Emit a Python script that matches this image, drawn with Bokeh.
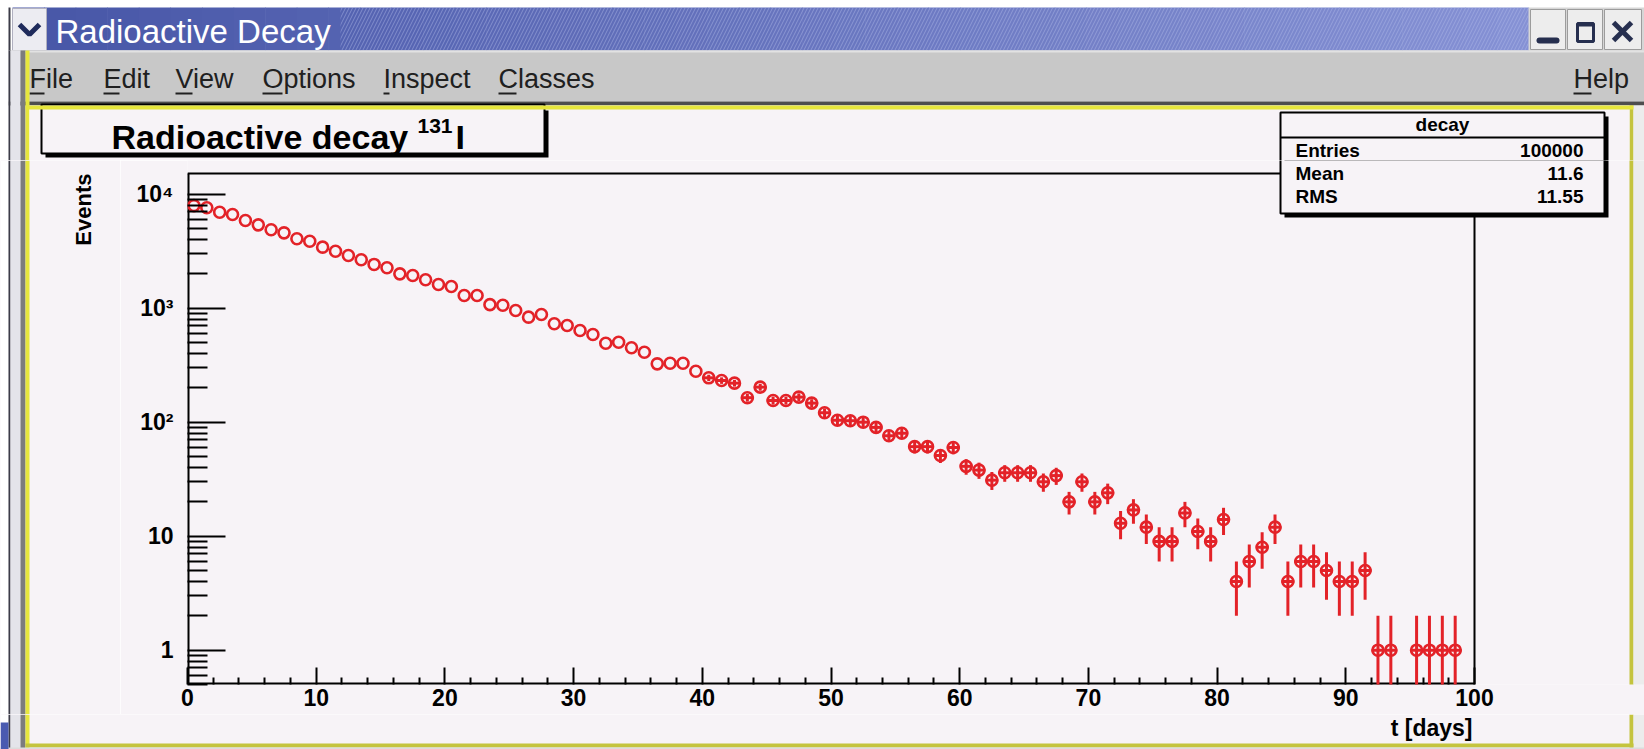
import numpy as np
from bokeh.plotting import figure
from bokeh.layouts import column, row
from bokeh.models import Range1d, BoxAnnotation, Label, FixedTicker, ColumnDataSource
from bokeh.embed import file_html
from bokeh.resources import INLINE
from bokeh.core.properties import value

# ---------------- data ----------------
bin_low_edges = list(range(100))          # 1-day bins from 0 to 100 days
counts = [7943, 7600, 6950, 6640, 5880, 5380, 4870, 4580, 4060, 3870,
          3430, 3160, 2900, 2660, 2420, 2260, 2000, 1935, 1775, 1615,
          1550, 1292, 1292, 1074, 1060, 955, 834, 881, 730, 705,
          637, 588, 493, 503, 450, 411, 325, 329, 329, 280,
          245, 232, 220, 164, 203, 155, 155, 166, 147, 121,
          104, 103, 100, 90, 76, 80, 61, 61, 51, 60,
          41, 38, 31, 36, 36, 36, 30, 34, 20, 30,
          20, 24, 13, 17, 12, 9, 9, 16, 11, 9,
          14, 4, 6, 8, 12, 4, 6, 6, 5, 4,
          4, 5, 1, 1, 0, 1, 1, 1, 1, 0]

x_major_ticks = [0, 10, 20, 30, 40, 50, 60, 70, 80, 90, 100]
x_minor_ticks = [v for v in range(0, 101, 2) if v % 10 != 0]
y_major_ticks = [1, 10, 100, 1000, 10000]
y_tick_labels = ["1", "10", "10²", "10³", "10⁴"]
y_minor_ticks = [0.5, 0.6, 0.7, 0.8, 0.9] + [k * 10 ** d for d in range(4) for k in range(2, 10)]
x_limits = (0, 100)
y_low = 0.5

title_text = "Radioactive decay"
title_sup = "131"
title_elem = "I"
stats_title = "decay"
stats_names = ["Entries", "Mean", "RMS"]
stats_values = ["100000", "11.6", "11.55"]
menu_items = ["File", "Edit", "View", "Options", "Inspect", "Classes"]
window_title = "Radioactive Decay"

# ---------------- geometry / style (page pixels) ----------------
PAGE_W, PAGE_H = 1644, 749
SPLIT_TOP = 160
SPLIT_BOT = 714
SPLIT_LEFT = 120
FRAME_L, FRAME_B = 187, 684
ROOT_R, ROOT_T = 1474, 173
RED = "#e32228"
BG = "#f7f3f7"
YEL = "#e6e63c"
OLIVE = "#c4c43e"
FONT = "Liberation Sans"
MID = 0.347          # alphabetic baseline -> "middle" offset, in em
MARKER_PX = 13.6

px_per_day = (ROOT_R - FRAME_L) / (x_limits[1] - x_limits[0])
px_per_decade = 114.0
y_root_top = y_low * 10 ** ((FRAME_B - ROOT_T) / px_per_decade)
x_frame_end = x_limits[0] + (PAGE_W - FRAME_L) / px_per_day
y_frame_top = y_low * 10 ** ((FRAME_B - SPLIT_TOP) / px_per_decade)


def chrome_fig(x0, x1, y0, y1, bg="white"):
    f = figure(width=x1 - x0, height=y1 - y0, x_range=Range1d(x0, x1), y_range=Range1d(-y1, -y0),
               output_backend="svg", toolbar_location=None, title=None,
               x_axis_location=None, y_axis_location=None, min_border=0)
    f.grid.visible = False
    f.outline_line_color = None
    f.background_fill_color = bg
    f.border_fill_color = bg
    return f


def rect(f, x0, y0, x1, y1, color, line_color=None, lw=1, **kw):
    f.quad(left=[x0], right=[x1], top=[-y0], bottom=[-y1], fill_color=color,
           line_color=line_color, line_width=lw, **kw)


def txt(f, x, y, s, size, bold=False, align="left", color="black", angle=0.0, baseline="alphabetic"):
    yy = y - MID * size if baseline == "alphabetic" else y
    f.text(x=[x], y=[-yy], text=[s], text_font=value(FONT), text_font_size=f"{size}px",
           text_font_style="bold" if bold else "normal", text_align=align,
           text_baseline="middle", text_color=color, angle=angle)


def left_strips(f, y0, y1):
    rect(f, 0, y0, 8, y1, "#ffffff")
    rect(f, 8, y0, 10, y1, "#3c3c48")
    rect(f, 10, y0, 20, y1, "#e4e4ea")
    rect(f, 20, y0, 25, y1, "#7c7c7c")
    rect(f, 25, y0, 29, y1, YEL)


def right_strips(f, y0, y1):
    rect(f, 1629, y0, 1633, y1, OLIVE)
    rect(f, 1633, y0, 1644, y1, "#ececec")


# ================= top: window chrome, title pave, top of stats pave =================
top = chrome_fig(0, PAGE_W, 0, SPLIT_TOP)

n_strips = 48
edges = np.linspace(12, 1528, n_strips + 1)
c0 = np.array([0x48, 0x57, 0xa8]); c1 = np.array([0x85, 0x91, 0xd4])
cols = ["#%02x%02x%02x" % tuple((c0 * (1 - i / (n_strips - 1)) + c1 * i / (n_strips - 1)).astype(int))
        for i in range(n_strips)]
top.quad(left=edges[:-1], right=edges[1:] + 0.6, top=-7, bottom=-50, fill_color=cols, line_color=None)
top.quad(left=[340], right=[1528], top=[-7], bottom=[-50], fill_alpha=0, line_color=None,
         hatch_pattern="/", hatch_color="#b4bcec", hatch_alpha=0.45, hatch_scale=7, hatch_weight=1)
txt(top, 55, 42, window_title, 33, color="white")

rect(top, 12, 8, 46, 50, "#ececf2", line_color="#b0b0c0")
top.line(x=[19, 29, 39], y=[-24, -34, -24], line_color="#1f2b5c", line_width=5)

rect(top, 1528, 7, 1644, 50, "#d6d6d6")
top.quad(left=[1530, 1567, 1604], right=[1565, 1602, 1641], top=[-9] * 3, bottom=[-49] * 3,
         fill_color="#ededed", line_color="#9c9c9c", line_width=1)
top.line(x=[1539, 1556], y=[-40, -40], line_color="#262f4f", line_width=6, line_cap="round")
top.quad(left=[1577], right=[1593], top=[-23], bottom=[-41], fill_alpha=0, line_color="#262f4f", line_width=3)
top.line(x=[1577, 1593], y=[-24, -24], line_color="#262f4f", line_width=4)
top.line(x=[1613, 1631], y=[-22, -40], line_color="#262f4f", line_width=5)
top.line(x=[1631, 1613], y=[-22, -40], line_color="#262f4f", line_width=5)

rect(top, 8, 50, 1644, 101, "#c8c8c8")
rect(top, 8, 50, 1644, 52, "#e2e2e2")
rect(top, 8, 101, 1644, 105, "#4e4e4e")
menu_x = [29, 103, 175, 262, 383, 498]
first_w = [15, 16, 17, 20, 6, 18]
for mx, item in zip(menu_x, menu_items):
    txt(top, mx, 88, item, 27, color="#202020")
top.segment(x0=menu_x, y0=[-93] * 6, x1=[a + b for a, b in zip(menu_x, first_w)], y1=[-93] * 6,
            line_color="#202020", line_width=2)
txt(top, 1573, 88, "Help", 27, color="#202020")
top.segment(x0=[1573], y0=[-93], x1=[1591], y1=[-93], line_color="#202020", line_width=2)

left_strips(top, 50, SPLIT_TOP)
rect(top, 8, 7, 10, 50, "#3c3c48")
right_strips(top, 105, SPLIT_TOP)
rect(top, 29, 105, 1629, SPLIT_TOP, BG)

# title pave
rect(top, 45, 110, 548, 157, "black")
rect(top, 41, 104, 544, 153, BG, line_color="black", lw=2)
txt(top, 111, 148, title_text, 34, bold=True)
txt(top, 417, 133, title_sup, 21, bold=True)
txt(top, 455, 148, title_elem, 34, bold=True)

# stats pave (upper part)
rect(top, 1284, 116, 1608, 217, "black")
rect(top, 1280, 112, 1604, 213, BG, line_color="black", lw=2)
rect(top, 1280, 136, 1604, 138, "black")
txt(top, 1442, 131, stats_title, 19, bold=True, align="center")
txt(top, 1295, 157, stats_names[0], 19, bold=True)
txt(top, 1583, 157, stats_values[0], 19, bold=True, align="right")

# yellow canvas border (top)
rect(top, 25, 105, 1633, 109, YEL)

# ================= left strip with the y title =================
left = chrome_fig(0, SPLIT_LEFT, SPLIT_TOP, SPLIT_BOT, bg=BG)
left_strips(left, SPLIT_TOP, SPLIT_BOT)
txt(left, 83, ROOT_T, "Events", 22, bold=True, align="right", baseline="middle", angle=np.pi / 2)

# ================= main: the histogram =================
main = figure(width=PAGE_W - SPLIT_LEFT, height=SPLIT_BOT - SPLIT_TOP,
              x_range=Range1d(x_limits[0], x_frame_end), y_range=Range1d(y_low, y_frame_top),
              y_axis_type="log", output_backend="svg", toolbar_location=None, title=None,
              min_border_left=FRAME_L - SPLIT_LEFT, min_border_right=0,
              min_border_top=0, min_border_bottom=SPLIT_BOT - FRAME_B)
main.background_fill_color = BG
main.border_fill_color = BG
main.grid.visible = False
main.outline_line_color = None

xa = main.xaxis[0]
ya = main.yaxis[0]
xa.ticker = FixedTicker(ticks=x_major_ticks, minor_ticks=x_minor_ticks)
ya.ticker = FixedTicker(ticks=y_major_ticks, minor_ticks=y_minor_ticks)
ya.major_label_overrides = dict(zip(y_major_ticks, y_tick_labels))
for ax in (xa, ya):
    ax.axis_line_color = None
    ax.major_tick_line_width = 2
    ax.minor_tick_line_width = 2
    ax.major_tick_line_color = "black"
    ax.minor_tick_line_color = "black"
    ax.major_tick_out = 0
    ax.minor_tick_out = 0
    ax.major_label_text_font = FONT
    ax.major_label_text_font_style = "bold"
    ax.major_label_text_font_size = "23px"
    ax.major_label_text_color = "black"
xa.major_tick_in = 17
xa.minor_tick_in = 7
xa.major_label_standoff = 4
ya.major_tick_in = 38
ya.minor_tick_in = 20
ya.major_label_standoff = 14

# ROOT frame drawn through the plot scales
main.segment(x0=[x_limits[0], x_limits[0]], y0=[y_low, y_low], x1=[x_limits[0], x_limits[1]],
             y1=[y_root_top, y_low], line_color="black", line_width=4)
main.segment(x0=[x_limits[0], x_limits[1]], y0=[y_root_top, y_low], x1=[x_limits[1], x_limits[1]],
             y1=[y_root_top, y_root_top], line_color="black", line_width=2)

# histogram points; error bars (ROOT hides those that stay inside the marker)
t = [e + 0.5 for e, c in zip(bin_low_edges, counts) if c > 0]
n = [c for c in counts if c > 0]
err = [np.sqrt(c) for c in n]
lo = [max(c - e, y_low * 0.4) for c, e in zip(n, err)]
hi = [c + e for c, e in zip(n, err)]
show = [np.log10(h / c) * px_per_decade > 3.0 for h, c in zip(hi, n)]
eb = ColumnDataSource(dict(t=[a for a, s in zip(t, show) if s],
                           n=[a for a, s in zip(n, show) if s],
                           lo=[a for a, s in zip(lo, show) if s],
                           hi=[a for a, s in zip(hi, show) if s]))
eb.data["tl"] = [v - 0.5 for v in eb.data["t"]]
eb.data["tr"] = [v + 0.5 for v in eb.data["t"]]
main.segment(x0="t", y0="lo", x1="t", y1="hi", source=eb, line_color=RED, line_width=3)
main.segment(x0="tl", y0="n", x1="tr", y1="n", source=eb, line_color=RED, line_width=3)
src = ColumnDataSource(dict(t=t, n=n))
main.scatter(x="t", y="n", source=src, marker="circle", size=MARKER_PX - 2.6, fill_color=None,
             line_color=RED, line_width=2.6)


def sbox(x0, y0, x1, y1, color, line_color=None, line_width=1):
    main.add_layout(BoxAnnotation(left=x0 - FRAME_L, right=x1 - FRAME_L, top=FRAME_B - y0,
                                  bottom=FRAME_B - y1, left_units="screen", right_units="screen",
                                  top_units="screen", bottom_units="screen",
                                  fill_color=color, fill_alpha=1,
                                  line_color=line_color, line_width=line_width, line_alpha=1))


def slabel(x, y, text, size, bold=True, align="left"):
    main.add_layout(Label(x=x - FRAME_L, y=FRAME_B - (y - MID * size), x_units="screen", y_units="screen",
                          text=text, text_font=FONT, text_font_size=f"{size}px",
                          text_font_style="bold" if bold else "normal",
                          text_align=align, text_baseline="middle", text_color="black"))


# right window strips and lower part of the stats pave
sbox(1629, 150, 1633, 720, OLIVE)
sbox(1633, 150, 1644, 720, "#ececec")
sbox(1284, 116, 1608, 217, "black")
sbox(1280, 112, 1604, 213, BG, line_color="black", line_width=2)
for i in (1, 2):
    yb = 157 + i * 23
    slabel(1295, yb, stats_names[i], 19)
    slabel(1583, yb, stats_values[i], 19, align="right")

# ================= bottom strip with the x title =================
bottom = chrome_fig(0, PAGE_W, SPLIT_BOT, PAGE_H, bg=BG)
left_strips(bottom, SPLIT_BOT, PAGE_H)
right_strips(bottom, SPLIT_BOT, PAGE_H)
rect(bottom, 25, 743, 1633, 747, OLIVE)
rect(bottom, 0, 747, 1644, 749, "#dcdcdc")
rect(bottom, 0, 722, 8, 749, "#4a5ab0")
txt(bottom, 1472, 735, "t [days]", 23, bold=True, align="right")

for f in (top, left, main, bottom):
    if "frame_align" in f.properties():
        f.frame_align = False

layout = column(top, row(left, main, spacing=0), bottom, spacing=0)
open("out.html", "w").write(file_html(layout, INLINE))
